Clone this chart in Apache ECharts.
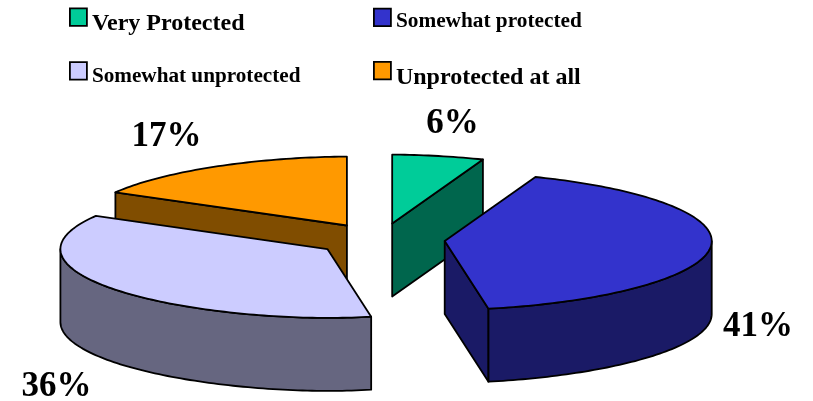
<!DOCTYPE html>
<html>
<head>
<meta charset="utf-8">
<style>html,body{margin:0;padding:0;background:#fff}#c{width:813px;height:401px}</style>
<script src="https://cdn.jsdelivr.net/npm/echarts@6/dist/echarts.min.js"></script>
</head>
<body>
<div id="c"></div>
<script>
// Data
var categories = ['Very Protected', 'Somewhat protected', 'Somewhat unprotected', 'Unprotected at all'];
var shares = [6, 41, 36, 17];

// Styles and layout
var topColors = ['#00CC99', '#3333CC', '#CCCCFF', '#FF9900'];
var sideColors = ['#00664D', '#1A1A66', '#666680', '#804D00'];
var drawOrder = [3, 2, 0, 1];
var labelPositions = [[452.5, 124], [758, 327], [56.5, 387], [166.5, 137]];
var legendPositions = [[69, 7.5, 24, 13.5], [373, 7.7, 21.3, 9], [69, 61.2, 21.2, 12], [373, 60.9, 24, 13.5]];
var pie = { cx: 380, cy: 239.5, rx: 267, tilt: 0.258, explodeTilt: 0.25, depth: 73, explode: 65, warp: 1.08 };
var FONT = '"Liberation Serif", "Times New Roman", serif';

var total = shares.reduce(function (a, b) { return a + b; }, 0);
var starts = [];
shares.reduce(function (acc, v, i) { starts[i] = acc; return acc + v; }, 0);

function rad(p) { return p / total * 2 * Math.PI; }
function rim(apex, t, drop) {
  var s = Math.sin(t);
  var x = (s < 0 ? -1 : 1) * Math.pow(Math.abs(s), pie.warp) * pie.rx;
  return [apex[0] + x, apex[1] - Math.cos(t) * pie.rx * pie.tilt + (drop || 0)];
}
function arcPoints(apex, a, b, drop) {
  var pts = [], n = Math.max(2, Math.ceil((b - a) / 0.02));
  for (var i = 0; i <= n; i++) pts.push(rim(apex, a + (b - a) * i / n, drop));
  return pts;
}
function poly(points, fill) {
  return { type: 'polygon', shape: { points: points },
    style: { fill: fill, stroke: '#000', lineWidth: 1.8, lineJoin: 'round' } };
}

function renderSlice(params, api) {
  var idx = api.value(0), value = api.value(1);
  var a = rad(starts[idx]), b = rad(starts[idx] + value), mid = (a + b) / 2;
  var apex = [pie.cx + pie.explode * Math.sin(mid),
              pie.cy - pie.explode * pie.explodeTilt * Math.cos(mid)];
  var apexLow = [apex[0], apex[1] + pie.depth];
  var kids = [], side = sideColors[idx], d = pie.depth;
  // Radial faces that look toward the viewer
  if (Math.sin(a) < -1e-6) {
    kids.push(poly([apex, rim(apex, a), rim(apex, a, d), apexLow], side));
  }
  if (Math.sin(b) > 1e-6) {
    kids.push(poly([apex, rim(apex, b), rim(apex, b, d), apexLow], side));
  }
  // Outer wall: front half of the rim only
  var w1 = Math.max(a, Math.PI / 2), w2 = Math.min(b, Math.PI * 1.5);
  if (w2 > w1) {
    kids.push(poly(arcPoints(apex, w1, w2, 0).concat(arcPoints(apex, w1, w2, d).reverse()), side));
  }
  // Top face
  kids.push(poly([apex].concat(arcPoints(apex, a, b, 0)), topColors[idx]));
  // Percent label
  kids.push({ type: 'text', z2: 50, style: {
    text: value + '%', x: labelPositions[idx][0], y: labelPositions[idx][1],
    align: 'center', verticalAlign: 'middle', fill: '#000',
    font: 'bold 35px ' + FONT } });
  return { type: 'group', children: kids };
}

var series = drawOrder.map(function (i) {
  return {
    type: 'custom', name: categories[i], coordinateSystem: 'none', silent: true,
    itemStyle: { color: topColors[i] },
    renderItem: renderSlice,
    data: [[i, shares[i]]]
  };
});

var legends = categories.map(function (name, i) {
  var lp = legendPositions[i];
  return {
    left: lp[0], top: lp[1], padding: 0, itemGap: 0, itemWidth: 17, itemHeight: 17.5,
    selectedMode: false, data: [{ name: name, icon: 'rect' }],
    itemStyle: { color: topColors[i], borderColor: '#000', borderWidth: 1.8 },
    formatter: '{t|{name}}',
    textStyle: { rich: { t: {
      fontFamily: FONT, fontWeight: 'bold', fontSize: lp[2], color: '#000', padding: [lp[3], 0, 0, 0]
    } } }
  };
});

var chart = echarts.init(document.getElementById('c'), null, { renderer: 'canvas' });
chart.setOption({ animation: false, backgroundColor: '#fff', legend: legends, series: series });
</script>
</body>
</html>
